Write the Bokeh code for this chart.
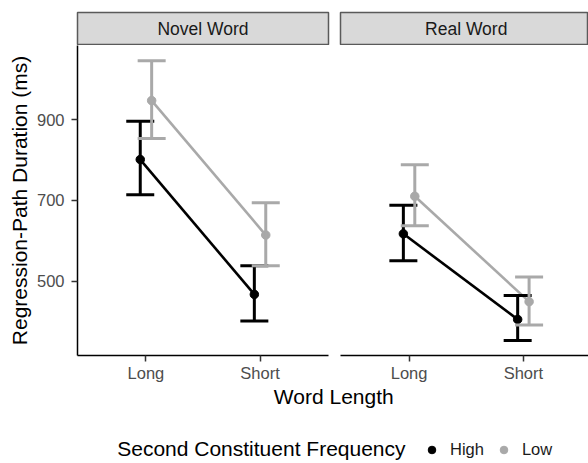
from bokeh.plotting import figure
from bokeh.models import (Range1d, FixedTicker, Whisker, TeeHead, ColumnDataSource,
                          Label, Legend, LegendItem)
from bokeh.layouts import column, row
from bokeh.embed import file_html
from bokeh.resources import INLINE

# ---------------- data ----------------
panels = ["Novel Word", "Real Word"]
lengths = ["Long", "Short"]
freqs = ["High", "Low"]

# mean regression-path duration (ms) per panel, [Long, Short]
high_mean = {"Novel Word": [801, 467], "Real Word": [617, 405]}
high_upper = {"Novel Word": [896, 538], "Real Word": [688, 464]}
high_lower = {"Novel Word": [714, 401], "Real Word": [550, 353]}
low_mean = {"Novel Word": [947, 614], "Real Word": [710, 449]}
low_upper = {"Novel Word": [1046, 694], "Real Word": [788, 510]}
low_lower = {"Novel Word": [853, 538], "Real Word": [637, 391]}

y_ticks = [500, 700, 900]
x_title = "Word Length"
y_title = "Regression-Path Duration (ms)"
legend_title = "Second Constituent Frequency"

colors = {"High": "black", "Low": "#A9A9A9"}
means = {"High": high_mean, "Low": low_mean}
uppers = {"High": high_upper, "Low": low_upper}
lowers = {"High": high_lower, "Low": low_lower}
dodge = {"High": -0.05, "Low": 0.05}

FONT = "Liberation Sans"
Y_RANGE = (315.6, 1083.5)

x_index = [i + 1 for i in range(len(lengths))]
tick_overrides = {x: lab for x, lab in zip(x_index, lengths)}


def style_axis(ax, standoff):
    ax.major_label_text_font = FONT
    ax.major_label_text_font_size = "16.5px"
    ax.major_label_text_color = "#4D4D4D"
    ax.major_tick_out = 6
    ax.major_tick_in = 0
    ax.minor_tick_line_color = None
    ax.major_tick_line_color = "#333333"
    ax.major_tick_line_width = 1.5
    ax.axis_line_color = "black"
    ax.axis_line_width = 1.5
    ax.major_label_standoff = standoff


def make_panel(name, width, mb_left, mb_right, x_end, with_y):
    p = figure(width=width, height=339, x_range=Range1d(0.4, x_end),
               y_range=Range1d(*Y_RANGE), output_backend="svg", toolbar_location=None,
               min_border_left=mb_left, min_border_right=mb_right, min_border_top=0,
               min_border_bottom=28, title=None,
               y_axis_location="left" if with_y else None)
    p.grid.visible = False
    p.outline_line_color = None
    p.background_fill_color = "white"
    p.border_fill_color = "white"

    xa = p.xaxis[0]
    xa.ticker = FixedTicker(ticks=x_index)
    xa.major_label_overrides = tick_overrides
    style_axis(xa, 2)

    if with_y:
        ya = p.yaxis[0]
        ya.ticker = FixedTicker(ticks=y_ticks)
        style_axis(ya, 7)
        ya.axis_label = y_title
        ya.axis_label_text_font = FONT
        ya.axis_label_text_font_size = "21px"
        ya.axis_label_text_font_style = "normal"
        ya.axis_label_text_color = "black"
        ya.axis_label_standoff = 3

    srcs = {}
    for f in freqs:
        srcs[f] = ColumnDataSource(dict(
            x=[x + dodge[f] for x in x_index],
            y=means[f][name],
            upper=uppers[f][name],
            lower=lowers[f][name],
        ))
    for f in freqs:
        p.line("x", "y", source=srcs[f], line_color=colors[f], line_width=2.6)
    for f in freqs:
        w = Whisker(base="x", upper="upper", lower="lower", source=srcs[f],
                    dimension="height", line_color=colors[f], line_width=3,
                    upper_head=TeeHead(size=28, line_color=colors[f], line_width=3),
                    lower_head=TeeHead(size=28, line_color=colors[f], line_width=3),
                    level="glyph")
        p.add_layout(w)
    for f in freqs:
        p.scatter("x", "y", source=srcs[f], size=8.5, fill_color=colors[f],
                  line_color=colors[f])
    return p


def make_strip(name, width, mb_left, mb_right, x_range):
    s = figure(width=width, height=45, x_range=x_range, y_range=Range1d(0, 1),
               output_backend="svg", toolbar_location=None,
               min_border_left=mb_left, min_border_right=mb_right, min_border_top=12,
               min_border_bottom=0, title=None,
               x_axis_location=None, y_axis_location=None)
    s.grid.visible = False
    s.background_fill_color = "#D9D9D9"
    s.border_fill_color = "white"
    s.outline_line_color = "#5A5A5A"
    s.outline_line_width = 1.5
    mid = (x_index[0] + x_index[-1]) / 2
    s.add_layout(Label(x=mid, y=17, x_units="data", y_units="screen", text=name,
                       text_align="center", text_baseline="alphabetic",
                       text_font=FONT, text_font_size="17.5px", text_color="#1A1A1A"))
    return s


pL = make_panel(panels[0], 334, 77, 6, 2.6, True)
pR = make_panel(panels[1], 254, 6, 0, 0.4 + 248 / 114.3, False)
sL = make_strip(panels[0], 334, 77, 6, pL.x_range)
sR = make_strip(panels[1], 254, 6, 0, pR.x_range)

# bottom: x title + legend
b = figure(width=588, height=77, x_range=Range1d(0, 1), y_range=Range1d(0, 1),
           output_backend="svg", toolbar_location=None, min_border=0, title=None,
           x_axis_location=None, y_axis_location=None)
b.grid.visible = False
b.outline_line_color = None
b.add_layout(Label(x=333.3, y=64.7, x_units="screen", y_units="screen", text=x_title,
                   text_align="center", text_baseline="alphabetic", text_font=FONT,
                   text_font_size="21px", text_color="black"))
b.add_layout(Label(x=116.7, y=13.4, x_units="screen", y_units="screen", text=legend_title,
                   text_align="left", text_baseline="alphabetic", text_font=FONT,
                   text_font_size="21px", text_color="black"))
items = []
for f in freqs:
    # legend proxies: the series' own points, lying outside this strip's range
    r = b.scatter(x=x_index, y=means[f][panels[0]], size=8, fill_color=colors[f],
                  line_color=colors[f])
    items.append(LegendItem(label=f, renderers=[r]))
leg = Legend(items=items, orientation="horizontal", location=(422, 2),
             glyph_width=19, glyph_height=19, label_standoff=9, spacing=10,
             padding=0, margin=0, border_line_color=None, background_fill_alpha=0,
             label_text_font=FONT, label_text_font_size="16.5px",
             label_text_color="#1A1A1A", label_height=19)
b.add_layout(leg)

layout = column(row(sL, sR), row(pL, pR), b)

open("out.html", "w").write(file_html(layout, INLINE))
